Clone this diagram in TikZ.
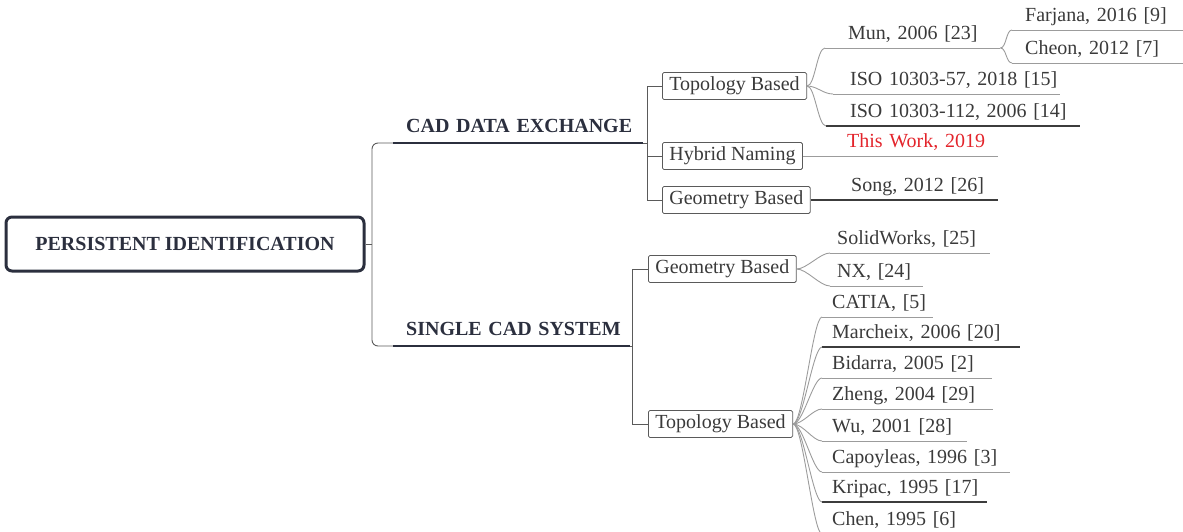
\documentclass[tikz,border=0pt]{standalone}
\usepackage{fontspec}
\setmainfont{Liberation Serif}
\definecolor{navy}{HTML}{2B2F3E}
\definecolor{txt}{HTML}{3A3A3A}
\definecolor{lgray}{HTML}{9C9C9C}
\definecolor{dgray}{HTML}{3C3C3C}
\definecolor{bgray}{HTML}{5A5A5A}
\definecolor{redt}{HTML}{E3242B}
\begin{document}
\begin{tikzpicture}[x=1pt,y=-1pt,
  every node/.style={font=\fontsize{20}{24}\selectfont},
  rootbox/.style={draw=navy,line width=3pt,rounded corners=6pt,minimum width=358pt,minimum height=54pt,inner sep=0pt,text=navy,text height=13.5pt,text depth=0pt,font=\fontsize{20}{24}\selectfont\bfseries},
  catbox/.style={draw=bgray,line width=0.8pt,rounded corners=1.5pt,minimum height=27pt,inner xsep=7pt,inner ysep=0pt,text=txt,anchor=west,text height=13pt,text depth=4pt},
  hdline/.style={anchor=south west,inner xsep=0pt,inner ysep=10pt,text height=14pt,text depth=0pt,align=left,text=navy,font=\fontsize{20}{24}\selectfont\bfseries},
  lf/.style={anchor=south west,inner xsep=0pt,inner ysep=3pt,text height=13pt,text depth=5pt,align=left,text=txt},
  thinl/.style={draw=bgray,line width=0.9pt},
  hdul/.style={draw=navy,line width=2.2pt},
  ugray/.style={draw=lgray,line width=0.9pt},
  udark/.style={draw=dgray,line width=1.1pt},
  fan/.style={draw=lgray,line width=0.9pt}
]
\useasboundingbox (0,0) rectangle (1183,531);
\clip (0,0) rectangle (1183,531);

% root
\node[rootbox] (root) at (185,244) {PERSISTENT IDENTIFICATION};

% level 1 headings
\node[hdline,text width=250pt] (cde) at (393,143) {\hspace*{13pt}CAD DATA EXCHANGE};
\node[hdline,text width=237pt] (scs) at (393,346) {\hspace*{13pt}SINGLE CAD SYSTEM};
\coordinate (brk) at (372,244);
\draw[thinl] (root.east) -- (brk);
\draw[thinl,rounded corners=6pt] (cde.south west) -- (372,143) -- (372,346) -- (scs.south west);
\draw[hdul] (cde.south west) -- (cde.south east);
\draw[hdul] (scs.south west) -- (scs.south east);

% level 2 boxes
\node[catbox] (tTop) at (662,86) {Topology Based};
\node[catbox] (tHyb) at (662,156) {Hybrid Naming};
\node[catbox] (tGeo) at (662,200) {Geometry Based};
\node[catbox] (sGeo) at (648,269) {Geometry Based};
\node[catbox] (sTop) at (648,424) {Topology Based};

\coordinate (tb1) at (647,86);
\coordinate (tb2) at (647,200);
\coordinate (tbm) at (647,143);
\coordinate (tbh) at (647,156);
\draw[thinl] (tTop.west) -- (tb1) -- (tb2) -- (tGeo.west);
\draw[thinl] (tbh) -- (tHyb.west);
\draw[thinl] (cde.south east) -- (tbm);

\coordinate (sb1) at (632,269);
\coordinate (sb2) at (632,424);
\coordinate (sbm) at (632,346);
\draw[thinl] (sGeo.west) -- (sb1) -- (sb2) -- (sTop.west);
\draw[thinl] (scs.south east) -- (sbm);

% leaves: CAD data exchange / topology
\node[lf,text width=175pt] (mun) at (825,48) {\hspace*{23pt}Mun, 2006 [23]};
\node[lf,text width=227pt] (iso57) at (833,94) {\hspace*{17pt}ISO 10303-57, 2018 [15]};
\node[lf,text width=254pt] (iso112) at (826,126) {\hspace*{24pt}ISO 10303-112, 2006 [14]};
\node[lf,text width=171pt] (farj) at (1012,30) {\hspace*{13pt}Farjana, 2016 [9]};
\node[lf,text width=171pt] (cheon) at (1012,63) {\hspace*{13pt}Cheon, 2012 [7]};
\node[lf,text width=192pt,text=redt] (thisw) at (806,156) {\hspace*{41pt}This Work, 2019};
\node[lf,text width=188pt] (song) at (810,200) {\hspace*{41pt}Song, 2012 [26]};

\draw[ugray] (mun.south west) -- (mun.south east);
\draw[ugray] (iso57.south west) -- (iso57.south east);
\draw[udark] (iso112.south west) -- (iso112.south east);
\draw[ugray] (farj.south west) -- (farj.south east);
\draw[ugray] (cheon.south west) -- (cheon.south east);
\draw[ugray] (tHyb.east) -- (thisw.south east);
\draw[udark] (tGeo.east) -- (song.south east);

\draw[fan] (tTop.east) .. controls +(8,0) and +(-8,0) .. (mun.south west);
\draw[fan] (tTop.east) .. controls +(10,0) and +(-10,0) .. (iso57.south west);
\draw[fan] (tTop.east) .. controls +(8,0) and +(-8,0) .. (iso112.south west);
\draw[fan] (mun.south east) .. controls +(6,0) and +(-6,0) .. (farj.south west);
\draw[fan] (mun.south east) .. controls +(6,0) and +(-6,0) .. (cheon.south west);

% leaves: single CAD system / geometry
\node[lf,text width=160pt] (solid) at (830,253) {\hspace*{7pt}SolidWorks, [25]};
\node[lf,text width=93pt] (nx) at (830,286) {\hspace*{7pt}NX, [24]};
\draw[ugray] (solid.south west) -- (solid.south east);
\draw[ugray] (nx.south west) -- (nx.south east);
\draw[fan] (sGeo.east) .. controls +(10,0) and +(-10,0) .. (solid.south west);
\draw[fan] (sGeo.east) .. controls +(10,0) and +(-10,0) .. (nx.south west);

% leaves: single CAD system / topology
\node[lf,text width=111pt] (catia) at (822,317) {\hspace*{10pt}CATIA, [5]};
\node[lf,text width=198pt] (marc) at (822,347) {\hspace*{10pt}Marcheix, 2006 [20]};
\node[lf,text width=170pt] (bida) at (822,378) {\hspace*{10pt}Bidarra, 2005 [2]};
\node[lf,text width=171pt] (zhen) at (822,409) {\hspace*{10pt}Zheng, 2004 [29]};
\node[lf,text width=145pt] (wu) at (822,441) {\hspace*{10pt}Wu, 2001 [28]};
\node[lf,text width=188pt] (capo) at (822,472) {\hspace*{10pt}Capoyleas, 1996 [3]};
\node[lf,text width=165pt] (krip) at (822,502) {\hspace*{10pt}Kripac, 1995 [17]};
\node[lf,text width=168pt] (chen) at (822,534) {\hspace*{10pt}Chen, 1995 [6]};

\draw[ugray] (catia.south west) -- (catia.south east);
\draw[udark] (marc.south west) -- (marc.south east);
\draw[ugray] (bida.south west) -- (bida.south east);
\draw[ugray] (zhen.south west) -- (zhen.south east);
\draw[ugray] (wu.south west) -- (wu.south east);
\draw[ugray] (capo.south west) -- (capo.south east);
\draw[udark] (krip.south west) -- (krip.south east);
\draw[ugray] (chen.south west) -- (chen.south east);

\foreach \n in {catia,marc,bida,zhen,wu,capo,krip,chen}
  \draw[fan] (sTop.east) .. controls +(10,0) and +(-9,0) .. (\n.south west);
\end{tikzpicture}
\end{document}
